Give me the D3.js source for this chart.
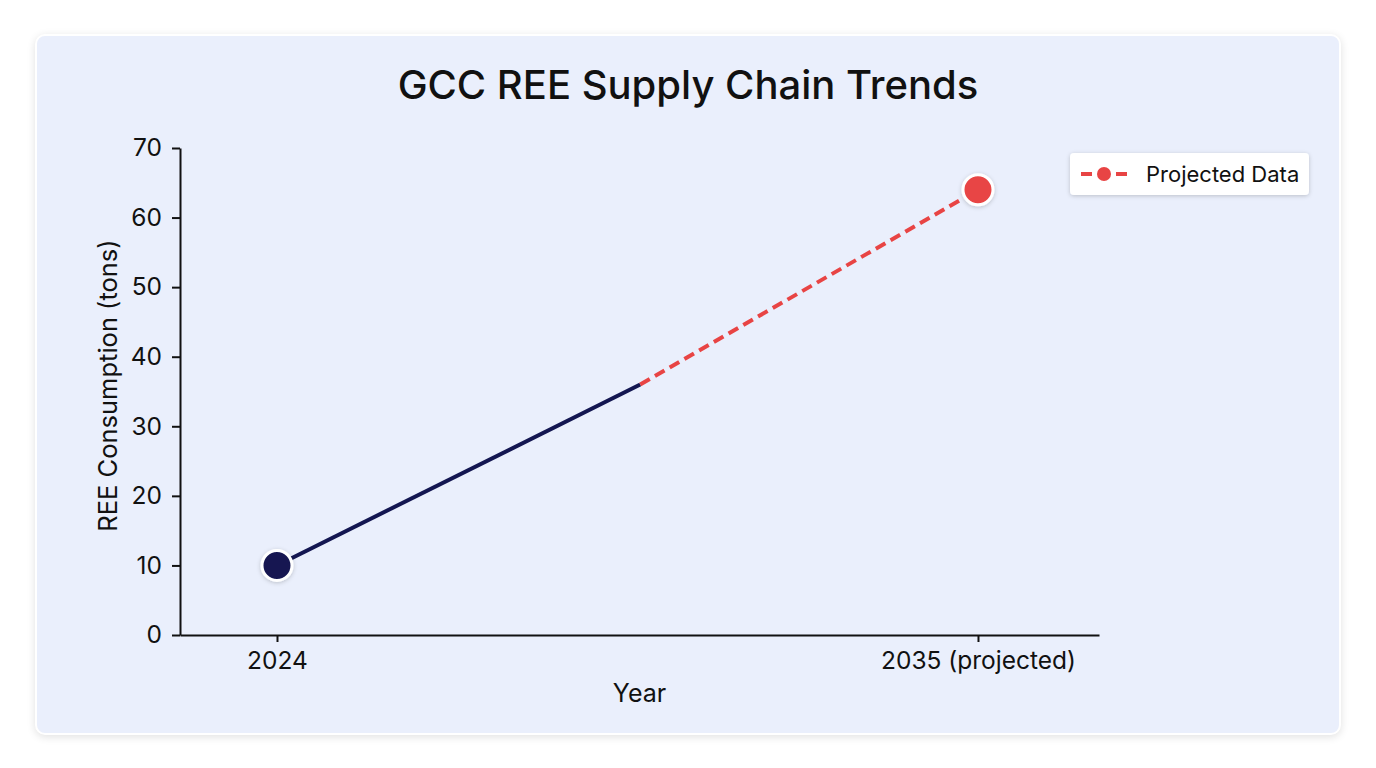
<!DOCTYPE html>
<html>
<head>
<meta charset="utf-8">
<script src="https://cdn.jsdelivr.net/npm/d3@7"></script>
<style>
  html, body { margin: 0; padding: 0; background: #ffffff; }
  body { width: 1376px; height: 768px; overflow: hidden; font-family: Inter, "Noto Sans", sans-serif; }
  #card {
    position: absolute; left: 35px; top: 34px; width: 1302px; height: 697px;
    background: #eaeffc; border: 2px solid #ffffff; border-radius: 10px;
    box-shadow: 0 2px 8px rgba(0,0,0,0.12);
  }
  svg { position: absolute; left: 0; top: 0; }
</style>
</head>
<body>
<div id="card"></div>
<svg id="chart" width="1376" height="768"></svg>
<script>
// ---- data ----
const title = "GCC REE Supply Chain Trends";
const xLabel = "Year";
const yLabel = "REE Consumption (tons)";
const years = [2024, 2029.7, 2035];
const consumption = [10, 36, 64];
const actualIdx = [0, 1];      // solid segment
const projectedIdx = [1, 2];   // dashed segment
const xTickValues = [2024, 2035];
const xTickLabels = ["2024", "2035 (projected)"];
const yTickValues = [0, 10, 20, 30, 40, 50, 60, 70];
const legendLabel = "Projected Data";

const navy = "#131651";
const red = "#e84444";

const svg = d3.select("#chart");
const pL = 180, pR = 1099, pT = 148, pB = 635;

const x = d3.scaleLinear().domain([2022.478, 2036.899]).range([pL, pR]);
const y = d3.scaleLinear().domain([0, 70]).range([pB, pT]);

// title
svg.append("text").attr("x", 688).attr("y", 99).attr("text-anchor", "middle")
  .attr("font-size", 40).attr("font-weight", 500).attr("fill", "#111")
  .text(title);

// axes
const xAxis = d3.axisBottom(x).tickValues(xTickValues)
  .tickFormat((d, i) => xTickLabels[i]).tickSize(7).tickSizeOuter(0).tickPadding(10);
const gx = svg.append("g").attr("transform", `translate(0,${pB})`).call(xAxis);
const yAxis = d3.axisLeft(y).tickValues(yTickValues).tickSize(8).tickSizeOuter(0).tickPadding(10);
const gy = svg.append("g").attr("transform", `translate(${pL},0)`).call(yAxis);
[gx, gy].forEach(g => {
  g.selectAll("path.domain").attr("stroke", "#111").attr("stroke-width", 2);
  g.selectAll(".tick line").attr("stroke", "#111").attr("stroke-width", 2);
  g.selectAll(".tick text").attr("fill", "#111").attr("font-size", 24.5)
    .attr("font-family", "Inter, 'Noto Sans', sans-serif");
});

// axis labels
svg.append("text").attr("x", (pL + pR) / 2).attr("y", 702).attr("text-anchor", "middle")
  .attr("font-size", 25).attr("fill", "#111").text(xLabel);
svg.append("text").attr("transform", `translate(117,${(241 + 530) / 2}) rotate(-90)`)
  .attr("text-anchor", "middle").attr("font-size", 25.5).attr("fill", "#111").text(yLabel);

// lines
const line = d3.line().x(i => x(years[i])).y(i => y(consumption[i]));
svg.append("path").attr("d", line(actualIdx)).attr("fill", "none")
  .attr("stroke", navy).attr("stroke-width", 4);
svg.append("path").attr("d", line(projectedIdx)).attr("fill", "none")
  .attr("stroke", red).attr("stroke-width", 4).attr("stroke-dasharray", "11,6");

// points
const defs = svg.append("defs");
const f = defs.append("filter").attr("id", "ps").attr("x", "-50%").attr("y", "-50%").attr("width", "200%").attr("height", "200%");
f.append("feDropShadow").attr("dx", 0).attr("dy", 1).attr("stdDeviation", 2).attr("flood-color", "#000").attr("flood-opacity", 0.2);

svg.append("circle").attr("cx", x(years[0])).attr("cy", y(consumption[0])).attr("r", 15)
  .attr("fill", navy).attr("stroke", "#fff").attr("stroke-width", 3).attr("filter", "url(#ps)");
svg.append("circle").attr("cx", x(years[2])).attr("cy", y(consumption[2])).attr("r", 15)
  .attr("fill", red).attr("stroke", "#fff").attr("stroke-width", 3).attr("filter", "url(#ps)");

// legend
const lg = svg.append("g").attr("transform", "translate(1070,153)");
lg.append("rect").attr("width", 239).attr("height", 42).attr("rx", 4).attr("fill", "#fff")
  .attr("filter", "url(#ps)");
lg.append("line").attr("x1", 11).attr("x2", 57).attr("y1", 21).attr("y2", 21)
  .attr("stroke", red).attr("stroke-width", 4).attr("stroke-dasharray", "11,24,11");
lg.append("circle").attr("cx", 34).attr("cy", 21).attr("r", 7).attr("fill", red);
lg.append("text").attr("x", 76).attr("y", 29).attr("font-size", 22).attr("fill", "#111").text(legendLabel);
</script>
</body>
</html>
